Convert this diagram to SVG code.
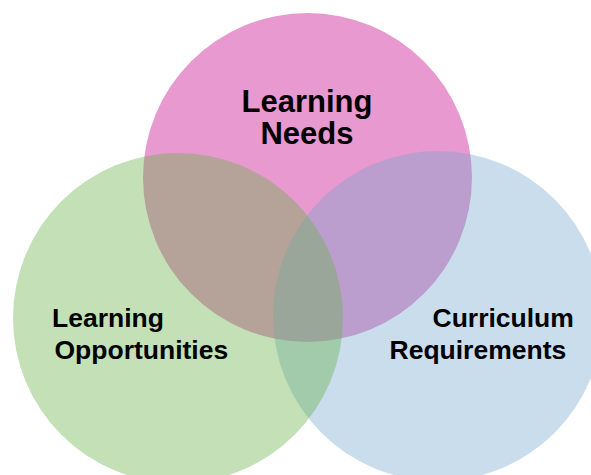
<svg xmlns="http://www.w3.org/2000/svg" width="591" height="475" viewBox="0 0 591 475">
  <style>
    .label { font-family: "Liberation Sans", Arial, Helvetica, sans-serif; font-weight: bold; fill: #000000; }
    .big { font-size: 31px; }
    .mid { font-size: 26.5px; }
  </style>
  <rect x="0" y="0" width="591" height="475" fill="#ffffff"/>
  <!-- Venn circles: drawn bottom to top, translucent so overlaps mix -->
  <g id="needs-circle">
    <circle cx="307.5" cy="177.5" r="164.5" fill="#e899cf"/>
  </g>
  <g id="curriculum-circle">
    <circle cx="438" cy="316" r="165" fill="rgb(113,166,205)" fill-opacity="0.38"/>
  </g>
  <g id="opportunities-circle">
    <circle cx="178" cy="318" r="165" fill="rgb(105,178,75)" fill-opacity="0.4"/>
  </g>
  <g id="connectors"></g>
  <!-- Labels -->
  <g id="needs-label">
    <text class="label big" x="307" y="112" text-anchor="middle">Learning</text>
    <text class="label big" x="307" y="144" text-anchor="middle">Needs</text>
  </g>
  <g id="opportunities-label">
    <text class="label mid" x="52" y="327">Learning</text>
    <text class="label mid" x="54.5" y="359">Opportunities</text>
  </g>
  <g id="curriculum-label">
    <text class="label mid" x="432.5" y="327">Curriculum</text>
    <text class="label mid" x="389.5" y="359">Requirements</text>
  </g>
</svg>
